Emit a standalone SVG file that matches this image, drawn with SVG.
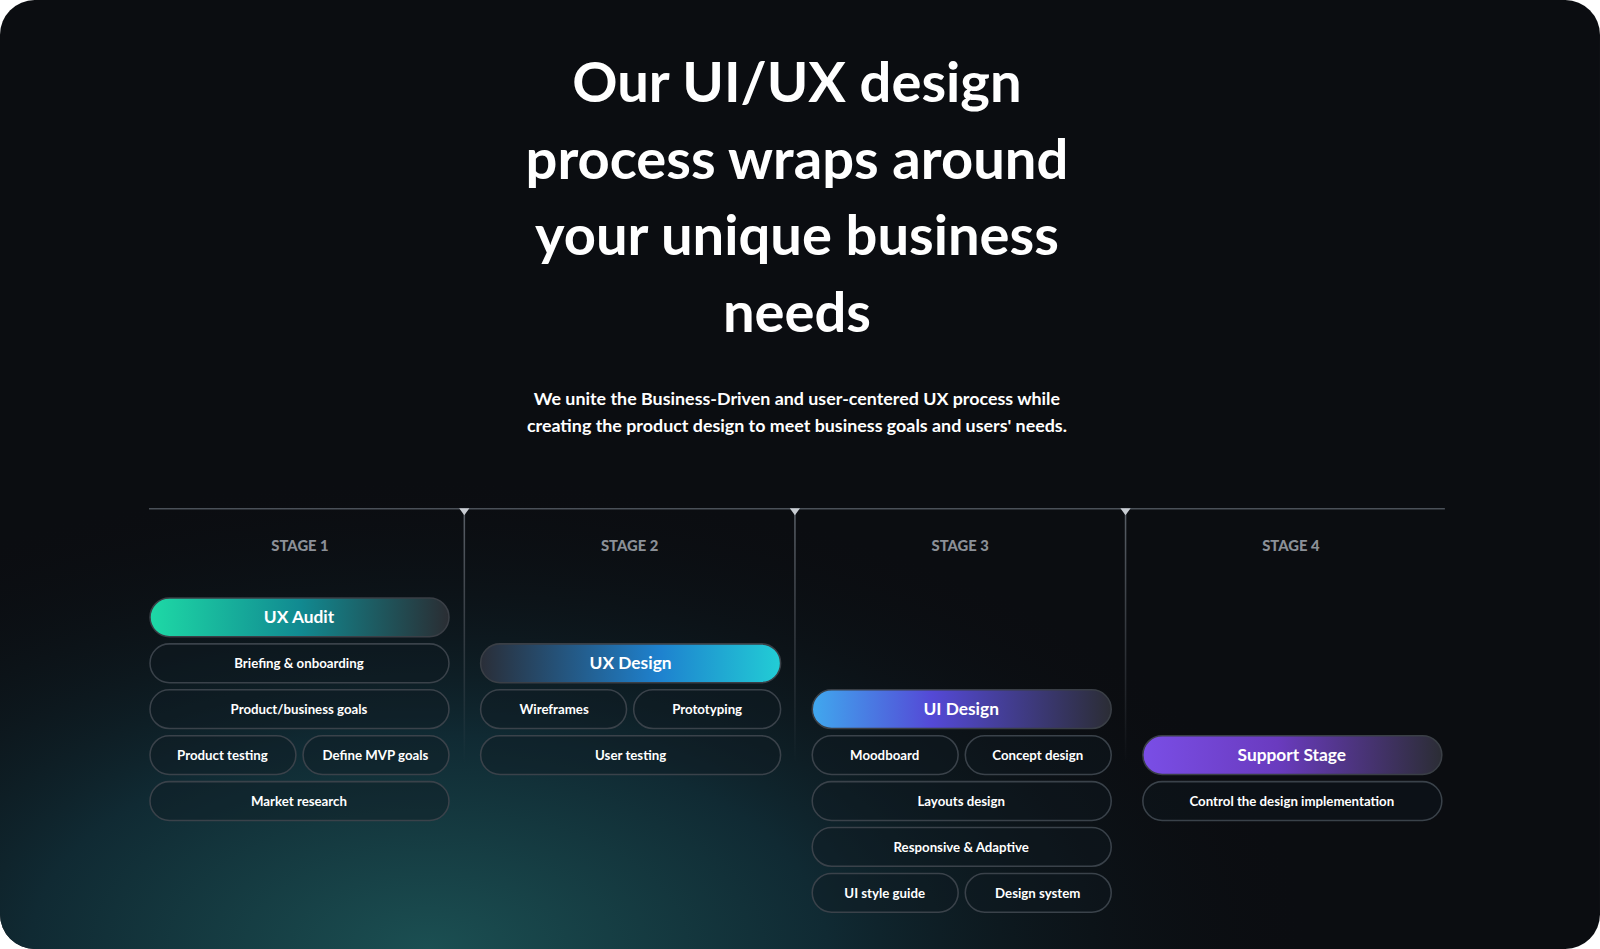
<svg xmlns="http://www.w3.org/2000/svg" width="1600" height="949" viewBox="0 0 1600 949">
<defs>
<radialGradient id="glow" cx="420" cy="930" r="620" gradientUnits="userSpaceOnUse" gradientTransform="translate(420 930) scale(1.4 0.75) translate(-420 -930)">
<stop offset="0" stop-color="#1b4f52"/><stop offset="0.45" stop-color="#102a33"/><stop offset="1" stop-color="#0b0d11" stop-opacity="0"/>
</radialGradient>
<linearGradient id="gA" x1="0" x2="1"><stop offset="0" stop-color="#1ed9a6"/><stop offset="0.5" stop-color="#118a91"/><stop offset="1" stop-color="#2a2d33"/></linearGradient>
<linearGradient id="gB" x1="0" x2="1"><stop offset="0" stop-color="#2a2e38"/><stop offset="0.6" stop-color="#1e82cf"/><stop offset="1" stop-color="#22cdd5"/></linearGradient>
<linearGradient id="gC" x1="0" x2="1"><stop offset="0" stop-color="#40a8ee"/><stop offset="0.4" stop-color="#5449d6"/><stop offset="1" stop-color="#2b2d35"/></linearGradient>
<linearGradient id="gD" x1="0" x2="1"><stop offset="0" stop-color="#7a4ee6"/><stop offset="0.45" stop-color="#6a3bbf"/><stop offset="1" stop-color="#2b2d35"/></linearGradient>
<linearGradient id="vdiv" x1="0" y1="0" x2="0" y2="1"><stop offset="0" stop-color="#5a6068"/><stop offset="1" stop-color="#5a6068" stop-opacity="0"/></linearGradient>
</defs>
<style>
.t{font-family:"Lato","Noto Sans",sans-serif;fill:#fff;text-anchor:middle}
.h{font-size:55px;font-weight:700}
.s{font-size:17.5px;font-weight:700}
.st{font-family:"Lato",sans-serif;font-size:14.5px;font-weight:900;fill:#8b9097;text-anchor:middle}
.p{fill:#0f1a21;fill-opacity:0.4;stroke:#3a424a;stroke-width:1.5}
.pl{font-family:"Lato","Noto Sans",sans-serif;font-size:13px;font-weight:700;fill:#fff;text-anchor:middle}
.ml{font-family:"Lato","Noto Sans",sans-serif;font-size:17px;font-weight:700;fill:#fff;text-anchor:middle}
.m{stroke:#3a3f46;stroke-width:1.5}
</style>
<rect width="1600" height="949" fill="#fff"/>
<g transform="scale(1.0204)">
<rect x="0" y="0" width="1568" height="930" rx="34" fill="#0b0d11"/>
<rect x="0" y="0" width="1568" height="930" rx="34" fill="url(#glow)"/>
<text class="t h" x="781" y="100">Our UI/UX design</text>
<text class="t h" x="781" y="175">process wraps around</text>
<text class="t h" x="781" y="250">your unique business</text>
<text class="t h" x="781" y="325">needs</text>
<text class="t s" x="781" y="397">We unite the Business-Driven and user-centered UX process while</text>
<text class="t s" x="781" y="423">creating the product design to meet business goals and users' needs.</text>
<g id="connectors">
<line x1="146" y1="498.5" x2="1416" y2="498.5" stroke="#4a5058" stroke-width="1.5"/>
<rect x="454.3" y="498" width="1.5" height="250" fill="url(#vdiv)"/>
<rect x="778.3" y="498" width="1.5" height="250" fill="url(#vdiv)"/>
<rect x="1102.3" y="498" width="1.5" height="250" fill="url(#vdiv)"/>
<path d="M450 498 L460 498 L455 505 Z M774 498 L784 498 L779 505 Z M1098 498 L1108 498 L1103 505 Z" fill="#c8ccd2"/>
</g>
<text class="st" x="294" y="540">STAGE 1</text>
<text class="st" x="617" y="540">STAGE 2</text>
<text class="st" x="941" y="540">STAGE 3</text>
<text class="st" x="1265" y="540">STAGE 4</text>
<g id="ux-audit"><rect x="147" y="586" width="293" height="38" rx="19" fill="url(#gA)" class="m"/><text class="ml" x="293" y="611">UX Audit</text></g>
<g id="briefing"><rect class="p" x="147" y="631" width="293" height="38" rx="19"/><text class="pl" x="293" y="655">Briefing &amp; onboarding</text></g>
<g id="product-goals"><rect class="p" x="147" y="676" width="293" height="38" rx="19"/><text class="pl" x="293" y="700">Product/business goals</text></g>
<g id="product-testing"><rect class="p" x="147" y="721" width="143" height="38" rx="19"/><text class="pl" x="218" y="745">Product testing</text></g>
<g id="mvp"><rect class="p" x="297" y="721" width="143" height="38" rx="19"/><text class="pl" x="368" y="745">Define MVP goals</text></g>
<g id="market"><rect class="p" x="147" y="766" width="293" height="38" rx="19"/><text class="pl" x="293" y="790">Market research</text></g>
<g id="ux-design"><rect x="471" y="631" width="294" height="38" rx="19" fill="url(#gB)" class="m"/><text class="ml" x="618" y="656">UX Design</text></g>
<g id="wireframes"><rect class="p" x="471" y="676" width="143" height="38" rx="19"/><text class="pl" x="543" y="700">Wireframes</text></g>
<g id="prototyping"><rect class="p" x="621" y="676" width="144" height="38" rx="19"/><text class="pl" x="693" y="700">Prototyping</text></g>
<g id="user-testing"><rect class="p" x="471" y="721" width="294" height="38" rx="19"/><text class="pl" x="618" y="745">User testing</text></g>
<g id="ui-design"><rect x="796" y="676" width="293" height="38" rx="19" fill="url(#gC)" class="m"/><text class="ml" x="942" y="701">UI Design</text></g>
<g id="moodboard"><rect class="p" x="796" y="721" width="143" height="38" rx="19"/><text class="pl" x="867" y="745">Moodboard</text></g>
<g id="concept"><rect class="p" x="946" y="721" width="143" height="38" rx="19"/><text class="pl" x="1017" y="745">Concept design</text></g>
<g id="layouts"><rect class="p" x="796" y="766" width="293" height="38" rx="19"/><text class="pl" x="942" y="790">Layouts design</text></g>
<g id="responsive"><rect class="p" x="796" y="811" width="293" height="38" rx="19"/><text class="pl" x="942" y="835">Responsive &amp; Adaptive</text></g>
<g id="styleguide"><rect class="p" x="796" y="856" width="143" height="38" rx="19"/><text class="pl" x="867" y="880">UI style guide</text></g>
<g id="designsystem"><rect class="p" x="946" y="856" width="143" height="38" rx="19"/><text class="pl" x="1017" y="880">Design system</text></g>
<g id="support"><rect x="1120" y="721" width="293" height="38" rx="19" fill="url(#gD)" class="m"/><text class="ml" x="1266" y="746">Support Stage</text></g>
<g id="control"><rect class="p" x="1120" y="766" width="293" height="38" rx="19"/><text class="pl" x="1266" y="790">Control the design implementation</text></g>
</g>
</svg>
